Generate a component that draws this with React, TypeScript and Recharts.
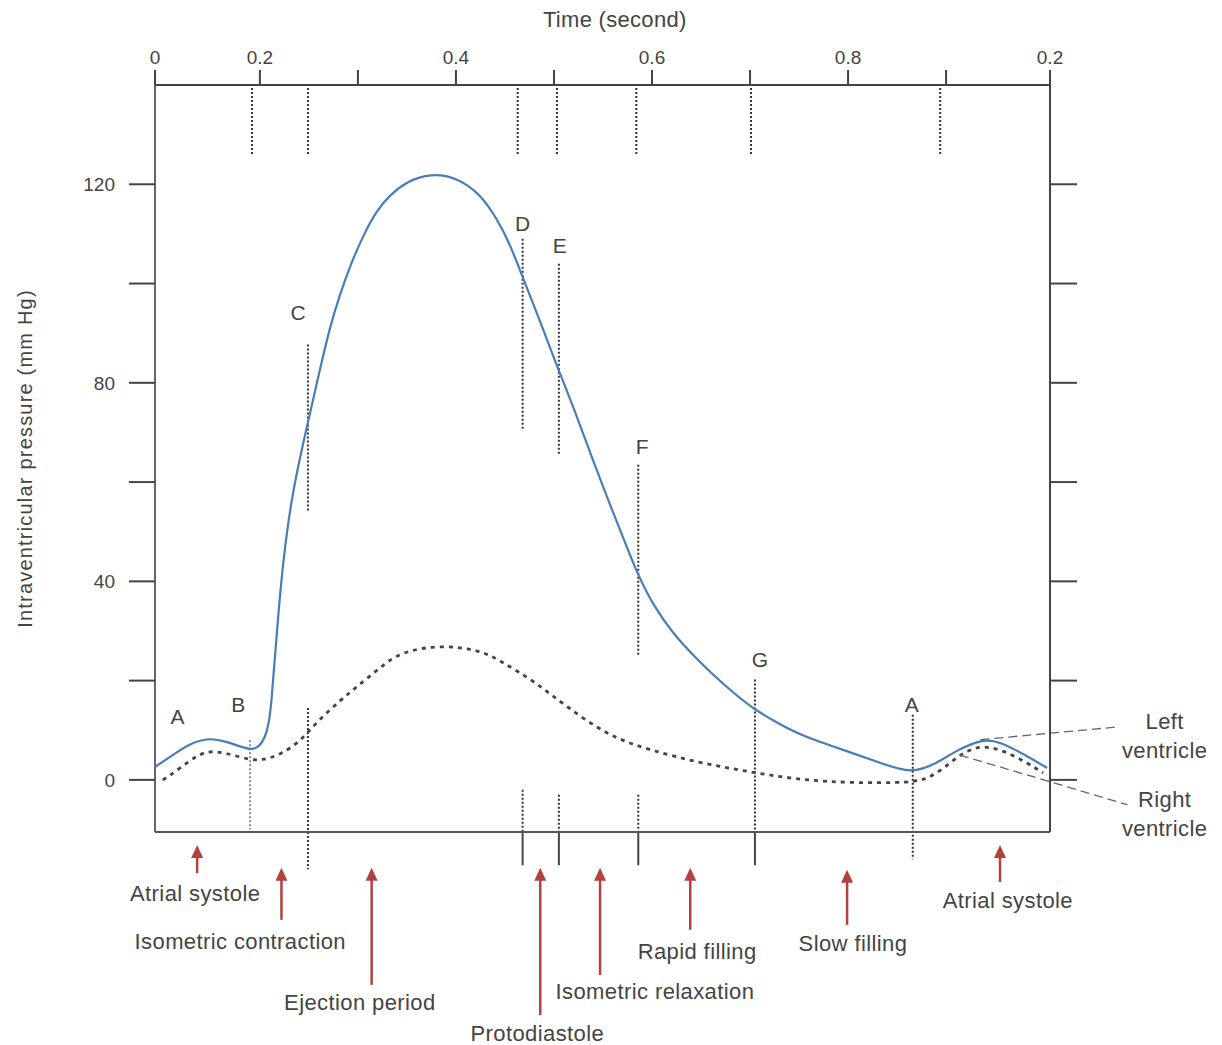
import React from "react";
import { ComposedChart, Line, XAxis, YAxis, ReferenceLine, ReferenceDot, Label } from "recharts";

// time (s) and pressure (mm Hg)
const lvTime = [0.093, 0.111, 0.129, 0.149, 0.166, 0.18, 0.192, 0.2, 0.205, 0.209, 0.212, 0.215, 0.219, 0.224, 0.232, 0.244, 0.253, 0.261, 0.272, 0.282, 0.292, 0.306, 0.319, 0.333, 0.35, 0.374, 0.401, 0.425, 0.442, 0.455, 0.469, 0.486, 0.503, 0.52, 0.537, 0.554, 0.571, 0.584, 0.601, 0.622, 0.645, 0.659, 0.683, 0.705, 0.728, 0.751, 0.802, 0.833, 0.865, 0.891, 0.911, 0.935, 0.948, 0.965, 0.986, 1.003];
const lvPressure = [2.6, 5, 7.4, 8.5, 7.7, 6.7, 6, 6.8, 8.5, 11, 16, 24, 34, 44.5, 56.6, 67.8, 75.5, 82.5, 91.7, 98, 103.6, 109.9, 114.7, 117.9, 120.6, 122.2, 121.4, 118, 113, 108, 100.8, 92.4, 83.3, 75.1, 65.8, 57, 48.6, 42, 35.2, 29.3, 24.5, 21.8, 17.5, 14.1, 11.5, 9, 5.6, 3.4, 1.2, 3.4, 6, 8, 8, 6.7, 4.4, 2.4];

const rvTime = [0.101, 0.108, 0.129, 0.146, 0.166, 0.19, 0.203, 0.22, 0.241, 0.258, 0.282, 0.299, 0.322, 0.343, 0.384, 0.424, 0.445, 0.479, 0.513, 0.557, 0.598, 0.649, 0.7, 0.751, 0.802, 0.865, 0.884, 0.904, 0.917, 0.935, 0.958, 0.983, 0.999];
const rvPressure = [0, 0.8, 4, 6, 5.4, 4, 4, 5, 7.7, 11.7, 16, 18.8, 22.5, 25.8, 27.2, 26.2, 24, 20, 14.7, 8.7, 6, 3.4, 1.6, 0, -0.6, -0.6, 0.4, 3.4, 5.4, 7, 6, 3.4, 1.4];

const timeTicks = [0.093, 0.2, 0.3, 0.4, 0.5, 0.6, 0.7, 0.8, 0.9, 1.006];
const timeTickLabels = ["0", "0.2", "", "0.4", "", "0.6", "", "0.8", "", "0.2"];
const pressureTicks = [0, 20, 40, 60, 80, 100, 120];
const pressureTickLabels = ["0", "", "40", "", "80", "", "120"];

// event letters on the curves
const letters = ["A", "B", "C", "D", "E", "F", "G", "A"];
const letterTime = [0.116, 0.178, 0.239, 0.468, 0.506, 0.59, 0.71, 0.865];
const letterLevel = [12.7, 15.1, 94.2, 112.1, 107.7, 67.1, 24.2, 15.1];

// dotted marks above the curves, under the time axis
const topMarkTime = [0.192, 0.249, 0.463, 0.503, 0.584, 0.701, 0.894];

// dotted guides: time, from, to
const guideTime = [0.249, 0.468, 0.505, 0.586, 0.705, 0.866, 0.19, 0.249, 0.468, 0.505, 0.586];
const guideFrom = [87.7, 109, 104, 63.5, 20.2, 13.1, 8, 14.5, -2, -3, -3];
const guideTo = [54, 70.6, 65.5, 25.2, -10.5, -16, -10, -18, -10.5, -10.5, -10.5];
const solidMarkTime = [0.468, 0.505, 0.586, 0.705];

// phases under the chart
const phases = ["Atrial systole", "Isometric contraction", "Ejection period", "Protodiastole", "Isometric relaxation", "Rapid filling", "Slow filling", "Atrial systole"];
const arrowTime = [0.136, 0.222, 0.314, 0.486, 0.547, 0.639, 0.799, 0.955];
const arrowTip = [-13.1, -17.7, -17.7, -17.7, -17.7, -17.7, -18.1, -13.1];
const arrowBase = [-18.8, -28.2, -41.3, -47.4, -39.3, -30.2, -29.2, -20.6];
const phaseTime = [0.134, 0.18, 0.302, 0.483, 0.603, 0.646, 0.805, 0.963];
const phaseLevel = [-22.8, -32.5, -44.8, -51, -42.7, -34.5, -32.9, -24.4];

const lvData = lvTime.map((t, i) => ({ t, p: lvPressure[i] }));
const rvData = rvTime.map((t, i) => ({ t, p: rvPressure[i] }));

const FONT = "'Liberation Sans', Arial, sans-serif";
const TEXT = "#444";
const RED = "#b3413f";

const textShape = (value: string, size = 22, spacing = 0.4) => (props: any) => (
  <text x={props.cx} y={props.cy} textAnchor="middle" dominantBaseline="central" fontFamily={FONT} fontSize={size} letterSpacing={spacing} fill={TEXT}>
    {value}
  </text>
);

const arrowHead = (props: any) => (
  <polygon points={`${props.cx},${props.cy} ${props.cx - 6},${props.cy + 13} ${props.cx + 6},${props.cy + 13}`} fill={RED} />
);

export default function App() {
  return (
    <div style={{ position: "absolute", left: 0, top: 0, width: 1222, height: 1045, background: "#fff" }}>
      <ComposedChart width={1222} height={1045} margin={{ top: 45, right: 132, bottom: 212, left: 25 }}>
        <XAxis
          dataKey="t"
          type="number"
          orientation="top"
          domain={[0.093, 1.006]}
          allowDataOverflow
          ticks={timeTicks}
          tickFormatter={(v: number, i: number) => timeTickLabels[i]}
          height={40}
          tickSize={15}
          tickMargin={6}
          axisLine={{ stroke: "#444", strokeWidth: 2 }}
          tickLine={{ stroke: "#444", strokeWidth: 2 }}
          tick={{ fill: TEXT, fontSize: 19, fontFamily: FONT }}
        />
        <XAxis xAxisId="bottom" type="number" orientation="bottom" domain={[0.093, 1.006]} allowDataOverflow height={1} tick={false} tickLine={false} axisLine={{ stroke: "#555", strokeWidth: 2 }} />
        <YAxis
          type="number"
          domain={[-10.5, 140]}
          allowDataOverflow
          ticks={pressureTicks}
          tickFormatter={(v: number, i: number) => pressureTickLabels[i]}
          width={130}
          tickSize={26}
          tickMargin={14}
          axisLine={{ stroke: "#666", strokeWidth: 2 }}
          tickLine={{ stroke: "#444", strokeWidth: 2 }}
          tick={{ fill: TEXT, fontSize: 19, fontFamily: FONT }}
        >
          <Label value="Intraventricular pressure (mm Hg)" angle={-90} position="insideLeft" offset={0} fill={TEXT} fontSize={20} fontFamily={FONT} style={{ textAnchor: "middle", letterSpacing: 1.2 }} />
        </YAxis>
        <YAxis
          yAxisId="right"
          orientation="right"
          type="number"
          domain={[-10.5, 140]}
          allowDataOverflow
          ticks={pressureTicks}
          tickFormatter={() => ""}
          width={40}
          tickSize={27}
          axisLine={{ stroke: "#444", strokeWidth: 2 }}
          tickLine={{ stroke: "#444", strokeWidth: 2 }}
        />

        {/* axis title above the time axis */}
        <ReferenceDot x={0.562} y={153.2} r={0} ifOverflow="visible" shape={textShape("Time (second)", 22, 0.3)} />

        {topMarkTime.map((t, i) => (
          <ReferenceLine key={`tm${i}`} segment={[{ x: t, y: 139.4 }, { x: t, y: 126 }]} ifOverflow="visible" stroke="#333" strokeWidth={2} strokeDasharray="2 2" />
        ))}
        {guideTime.map((t, i) => (
          <ReferenceLine key={`g${i}`} segment={[{ x: t, y: guideFrom[i] }, { x: t, y: guideTo[i] }]} ifOverflow="visible" stroke={i === 6 ? "#888" : "#333"} strokeWidth={2} strokeDasharray="2 2" />
        ))}
        {solidMarkTime.map((t, i) => (
          <ReferenceLine key={`s${i}`} segment={[{ x: t, y: -10.5 }, { x: t, y: -17.2 }]} ifOverflow="visible" stroke="#444" strokeWidth={2} />
        ))}

        <Line data={rvData} dataKey="p" type="basis" stroke="#444" strokeWidth={2.8} strokeDasharray="4 5" dot={false} activeDot={false} isAnimationActive={false} />
        <Line data={lvData} dataKey="p" type="basis" stroke="#4a7db6" strokeWidth={2.2} dot={false} activeDot={false} isAnimationActive={false} />

        {/* leaders to the ventricle labels */}
        <ReferenceLine segment={[{ x: 0.935, y: 8.1 }, { x: 1.077, y: 10.7 }]} ifOverflow="visible" stroke="#666" strokeWidth={1.3} strokeDasharray="9 5" />
        <ReferenceLine segment={[{ x: 0.914, y: 5 }, { x: 1.085, y: -5 }]} ifOverflow="visible" stroke="#666" strokeWidth={1.3} strokeDasharray="9 5" />
        <ReferenceDot x={1.123} y={11.7} r={0} ifOverflow="visible" shape={textShape("Left")} />
        <ReferenceDot x={1.123} y={6} r={0} ifOverflow="visible" shape={textShape("ventricle")} />
        <ReferenceDot x={1.123} y={-4} r={0} ifOverflow="visible" shape={textShape("Right")} />
        <ReferenceDot x={1.123} y={-9.7} r={0} ifOverflow="visible" shape={textShape("ventricle")} />

        {letters.map((s, i) => (
          <ReferenceDot key={`l${i}`} x={letterTime[i]} y={letterLevel[i]} r={0} ifOverflow="visible" shape={textShape(s, 21, 0)} />
        ))}

        {phases.map((s, i) => (
          <ReferenceLine key={`a${i}`} segment={[{ x: arrowTime[i], y: arrowBase[i] }, { x: arrowTime[i], y: arrowTip[i] - 2 }]} ifOverflow="visible" stroke={RED} strokeWidth={2.5} />
        ))}
        {phases.map((s, i) => (
          <ReferenceDot key={`h${i}`} x={arrowTime[i]} y={arrowTip[i]} r={0} ifOverflow="visible" shape={arrowHead} />
        ))}
        {phases.map((s, i) => (
          <ReferenceDot key={`p${i}`} x={phaseTime[i]} y={phaseLevel[i]} r={0} ifOverflow="visible" shape={textShape(s)} />
        ))}
      </ComposedChart>
    </div>
  );
}
